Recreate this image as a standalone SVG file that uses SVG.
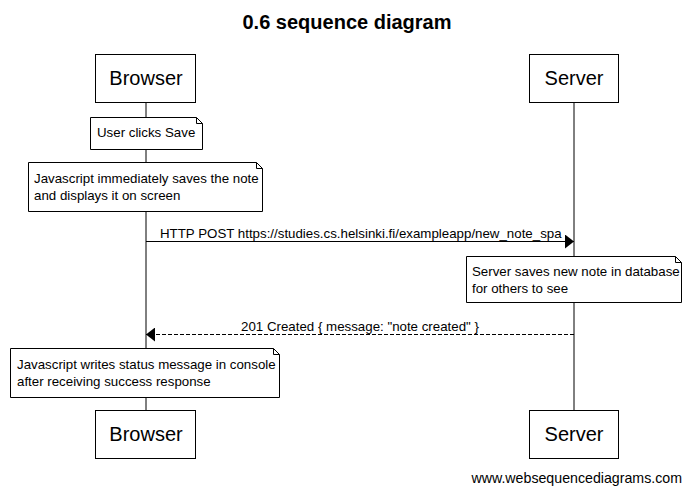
<svg xmlns="http://www.w3.org/2000/svg" width="691" height="493" viewBox="0 0 691 493">
<style>
text{font-family:"Liberation Sans",Arial,sans-serif;fill:#000}
.box{fill:#fff;stroke:#000;stroke-width:1}
.note{fill:#fff;stroke:#000;stroke-width:1}
.life{stroke:#000;stroke-width:1}
.ptxt{font-size:20px;text-anchor:middle}
.ntxt{font-size:13.3px}
.msg{stroke:#000;stroke-width:1;fill:none}
</style>
<defs>
<marker id="ah" viewBox="0 0 9 14" refX="9" refY="7" markerWidth="9" markerHeight="14" markerUnits="userSpaceOnUse" orient="auto" preserveAspectRatio="none">
<path d="M0,0 L9,7 L0,14 Z" fill="#000"/>
</marker>
</defs>
<rect width="691" height="493" fill="#fff"/>
<text x="347" y="29" font-size="20" font-weight="bold" text-anchor="middle">0.6 sequence diagram</text>
<g id="lifelines">
<line class="life" x1="146" y1="103" x2="146" y2="410"/>
<line class="life" x1="574" y1="103" x2="574" y2="410"/>
</g>
<g id="browser-top"><rect class="box" x="95.5" y="54.5" width="100" height="48"/><text class="ptxt" x="146" y="85">Browser</text></g>
<g id="server-top"><rect class="box" x="529.5" y="54.5" width="89" height="48"/><text class="ptxt" x="574" y="85">Server</text></g>
<g id="browser-bottom"><rect class="box" x="95.5" y="410.5" width="100" height="48"/><text class="ptxt" x="146" y="441">Browser</text></g>
<g id="server-bottom"><rect class="box" x="529.5" y="410.5" width="89" height="48"/><text class="ptxt" x="574" y="441">Server</text></g>
<g id="note1"><path class="note" d="M90.5,117.5 H196.5 L202.5,123.5 V149.5 H90.5 Z M196.5,117.5 V123.5 H202.5"/><text class="ntxt" x="97" y="137">User clicks Save</text></g>
<g id="note2"><path class="note" d="M28.5,162.5 H256.5 L262.5,168.5 V211.5 H28.5 Z M256.5,162.5 V168.5 H262.5"/><text class="ntxt" x="34" y="183">Javascript immediately saves the note</text><text class="ntxt" x="34" y="200">and displays it on screen</text></g>
<g id="note3"><path class="note" d="M466.5,256.5 H675.5 L681.5,262.5 V302.5 H466.5 Z M675.5,256.5 V262.5 H681.5"/><text class="ntxt" x="472" y="276">Server saves new note in database</text><text class="ntxt" x="472" y="293">for others to see</text></g>
<g id="note4"><path class="note" d="M10.5,348.5 H273.5 L279.5,354.5 V397.5 H10.5 Z M273.5,348.5 V354.5 H279.5"/><text class="ntxt" x="17" y="369">Javascript writes status message in console</text><text class="ntxt" x="17" y="386">after receiving success response</text></g>
<g id="connectors">
<line class="msg" x1="146" y1="241.5" x2="574" y2="241.5" marker-end="url(#ah)"/>
<text class="ntxt" x="160" y="238">HTTP POST https://studies.cs.helsinki.fi/exampleapp/new_note_spa</text>
<line class="msg" x1="574" y1="334.5" x2="146" y2="334.5" stroke-dasharray="4,2" marker-end="url(#ah)"/>
<text class="ntxt" x="360" y="331" text-anchor="middle">201 Created { message: "note created" }</text>
</g>
<text x="682" y="483" font-size="14.2" text-anchor="end">www.websequencediagrams.com</text>
</svg>
